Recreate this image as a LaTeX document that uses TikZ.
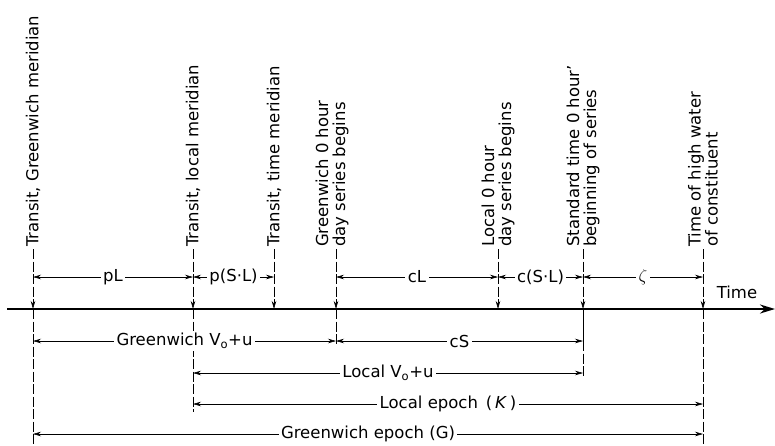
\documentclass[tikz,border=0pt]{standalone}
\usepackage{fontspec}
\setmainfont{DejaVu Sans}
\usetikzlibrary{arrows.meta,calc}

\begin{document}
\begin{tikzpicture}[x=1pt,y=-1pt,
  font=\fontsize{16.5}{17}\selectfont,
  lbl/.style={rotate=90,anchor=west,align=left,inner sep=2pt},
  tick/.style={line width=0.7pt,dash pattern=on 10pt off 2.5pt},
  down/.style={tick,-{Stealth[length=8pt,width=4.5pt]}},
  dim/.style={line width=0.6pt,{Stealth[length=8pt,width=4.5pt]}-{Stealth[length=8pt,width=4.5pt]}},
  dlab/.style={fill=white,inner sep=2.5pt},
  axis/.style={line width=2.3pt,-{Stealth[length=15pt,width=9pt]}}]
\useasboundingbox (0,0) rectangle (775,445);
% events along the time line
\node[lbl] (tgm) at (33,249) {Transit, Greenwich meridian};
\node[lbl] (tlm) at (193,249) {Transit, local meridian};
\node[lbl] (ttm) at (274,249) {Transit, time meridian};
\node[lbl] (gzh) at (332,249) {Greenwich 0 hour\\day series begins};
\node[lbl] (lzh) at (498,249) {Local 0 hour\\day series begins};
\node[lbl] (szh) at (583,249) {Standard time 0 hour'\\beginning of series};
\node[lbl] (hwc) at (703,249) {Time of high water\\of constituent};
\coordinate (t0) at (7,309); \coordinate (t1) at (775,309);
\coordinate (tg) at (33,309); \coordinate (tl) at (193,309); \coordinate (tt) at (274,309);
\coordinate (gz) at (336,309); \coordinate (lz) at (498,309); \coordinate (sz) at (583,309);
\coordinate (hw) at (703,309);
\coordinate (r0) at (0,277); \coordinate (r1) at (0,341); \coordinate (r2) at (0,373);
\coordinate (r3) at (0,404); \coordinate (r4) at (0,434);
\coordinate (tgb) at (33,445); \coordinate (tlb) at (193,412); \coordinate (gzb) at (336,345);
\coordinate (szb) at (583,377); \coordinate (hwb) at (703,445);
% time axis
\draw[axis] (t0) -- (t1);
\node (time) at (737,292) {Time};
% marks
\draw[down] (tgm.west) -- (tg); \draw[down] (tlm.west) -- (tl); \draw[down] (ttm.west) -- (tt);
\draw[down] (gzh.west -| gz) -- (gz); \draw[down] (lzh.west) -- (lz);
\draw[down] (szh.west) -- (sz); \draw[down] (hwc.west) -- (hw);
\draw[tick] (tg) -- (tgb); \draw[tick] (tl) -- (tlb); \draw[tick] (gz) -- (gzb);
\draw[line width=0.7pt] (sz) -- (sz |- r1); \draw[tick] (sz |- r1) -- (szb);
\draw[tick] (hw) -- (hwb);
% intervals
\draw[dim] (tg |- r0) -- node[dlab] {pL} (tl |- r0);
\draw[dim] (tl |- r0) -- node[dlab] {p(S·L)} (tt |- r0);
\draw[dim] (gz |- r0) -- node[dlab] {cL} (lz |- r0);
\draw[dim] (lz |- r0) -- node[dlab] {c(S·L)} (sz |- r0);
\draw[dim] (sz |- r0) -- node[dlab] {$\zeta$} (hw |- r0);
\draw[dim] (tg |- r1) -- node[dlab] {Greenwich V\textsubscript{o}+u} (gz |- r1);
\draw[dim] (gz |- r1) -- node[dlab] {cS} (sz |- r1);
\draw[dim] (tl |- r2) -- node[dlab] {Local V\textsubscript{o}+u} (sz |- r2);
\draw[dim] (tl |- r3) -- node[dlab] {Local epoch \,(\,\textit{K}\,)} (hw |- r3);
\draw[dim] (tg |- r4) -- node[dlab] {Greenwich epoch (G)} (hw |- r4);
\end{tikzpicture}
\end{document}
